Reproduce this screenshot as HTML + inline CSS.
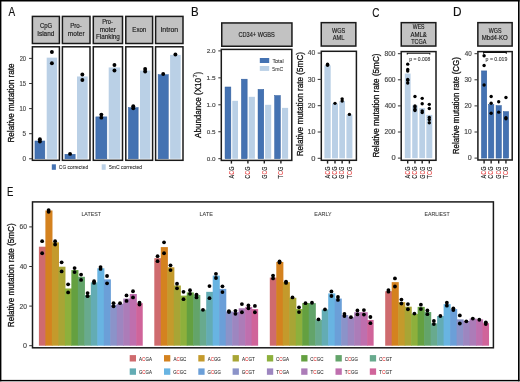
<!DOCTYPE html>
<html><head><meta charset="utf-8"><style>
html,body{margin:0;padding:0;background:#fff;}
body{width:520px;height:382px;overflow:hidden;}
svg{display:block;font-family:"Liberation Sans",sans-serif;will-change:transform;}
</style></head><body>
<svg width="520" height="382" viewBox="0 0 520 382">
<rect x="0.00" y="0.00" width="520.00" height="382.00" fill="#fff"/>
<text x="8.38" y="16.30" font-size="12.00" fill="#111" textLength="6.64" lengthAdjust="spacingAndGlyphs" stroke="#111" stroke-width="0.15">A</text>
<rect x="34.95" y="140.98" width="9.90" height="17.82" fill="#4472b2" stroke="#2f5c9c" stroke-width="0.5"/>
<rect x="46.70" y="57.65" width="10.40" height="101.15" fill="#bad0e6"/>
<circle cx="39.90" cy="139.32" r="1.95" fill="#000"/>
<circle cx="39.90" cy="141.53" r="1.95" fill="#000"/>
<circle cx="51.90" cy="51.97" r="1.95" fill="#000"/>
<circle cx="51.90" cy="63.32" r="1.95" fill="#000"/>
<rect x="32.40" y="46.80" width="27.00" height="113.50" fill="none" stroke="#1a1a1a" stroke-width="1.5"/>
<rect x="32.40" y="16.40" width="27.00" height="27.10" fill="#c2c2c2" stroke="#1a1a1a" stroke-width="1.5"/>
<rect x="64.95" y="154.28" width="10.20" height="4.52" fill="#4472b2" stroke="#2f5c9c" stroke-width="0.5"/>
<rect x="77.00" y="76.47" width="10.70" height="82.33" fill="#bad0e6"/>
<circle cx="70.05" cy="153.88" r="1.95" fill="#000"/>
<circle cx="82.35" cy="74.46" r="1.95" fill="#000"/>
<circle cx="82.35" cy="79.99" r="1.95" fill="#000"/>
<rect x="62.40" y="46.80" width="27.60" height="113.50" fill="none" stroke="#1a1a1a" stroke-width="1.5"/>
<rect x="62.40" y="16.40" width="27.60" height="27.10" fill="#c2c2c2" stroke="#1a1a1a" stroke-width="1.5"/>
<rect x="95.85" y="116.88" width="11.00" height="41.92" fill="#4472b2" stroke="#2f5c9c" stroke-width="0.5"/>
<rect x="108.70" y="67.44" width="11.50" height="91.36" fill="#bad0e6"/>
<circle cx="101.35" cy="114.62" r="1.95" fill="#000"/>
<circle cx="101.35" cy="117.64" r="1.95" fill="#000"/>
<circle cx="114.45" cy="64.93" r="1.95" fill="#000"/>
<circle cx="114.45" cy="70.45" r="1.95" fill="#000"/>
<rect x="93.30" y="46.80" width="29.20" height="113.50" fill="none" stroke="#1a1a1a" stroke-width="1.5"/>
<rect x="93.30" y="16.40" width="29.20" height="27.10" fill="#c2c2c2" stroke="#1a1a1a" stroke-width="1.5"/>
<rect x="128.35" y="107.65" width="9.80" height="51.15" fill="#4472b2" stroke="#2f5c9c" stroke-width="0.5"/>
<rect x="140.00" y="70.55" width="10.30" height="88.25" fill="#bad0e6"/>
<circle cx="133.25" cy="106.29" r="1.95" fill="#000"/>
<circle cx="133.25" cy="108.20" r="1.95" fill="#000"/>
<circle cx="145.15" cy="68.94" r="1.95" fill="#000"/>
<circle cx="145.15" cy="71.45" r="1.95" fill="#000"/>
<rect x="125.80" y="46.80" width="26.80" height="113.50" fill="none" stroke="#1a1a1a" stroke-width="1.5"/>
<rect x="125.80" y="16.40" width="26.80" height="27.10" fill="#c2c2c2" stroke="#1a1a1a" stroke-width="1.5"/>
<rect x="158.15" y="74.71" width="10.10" height="84.09" fill="#4472b2" stroke="#2f5c9c" stroke-width="0.5"/>
<rect x="170.10" y="54.89" width="10.60" height="103.91" fill="#bad0e6"/>
<circle cx="163.20" cy="73.96" r="1.95" fill="#000"/>
<circle cx="175.40" cy="54.53" r="1.95" fill="#000"/>
<rect x="155.60" y="46.80" width="27.40" height="113.50" fill="none" stroke="#1a1a1a" stroke-width="1.5"/>
<rect x="155.60" y="16.40" width="27.40" height="27.10" fill="#c2c2c2" stroke="#1a1a1a" stroke-width="1.5"/>
<text x="40.00" y="28.10" font-size="6.50" fill="#1a1a1a" textLength="12.25" lengthAdjust="spacingAndGlyphs" stroke="#1a1a1a" stroke-width="0.15">CpG</text>
<text x="37.21" y="35.60" font-size="6.50" fill="#1a1a1a" textLength="17.10" lengthAdjust="spacingAndGlyphs" stroke="#1a1a1a" stroke-width="0.15">Island</text>
<text x="70.19" y="28.10" font-size="6.50" fill="#1a1a1a" textLength="11.68" lengthAdjust="spacingAndGlyphs" stroke="#1a1a1a" stroke-width="0.15">Pro-</text>
<text x="67.87" y="35.60" font-size="6.50" fill="#1a1a1a" textLength="16.74" lengthAdjust="spacingAndGlyphs" stroke="#1a1a1a" stroke-width="0.15">moter</text>
<text x="102.13" y="24.20" font-size="6.50" fill="#1a1a1a" textLength="10.82" lengthAdjust="spacingAndGlyphs" stroke="#1a1a1a" stroke-width="0.15">Pro-</text>
<text x="99.78" y="31.90" font-size="6.50" fill="#1a1a1a" textLength="16.12" lengthAdjust="spacingAndGlyphs" stroke="#1a1a1a" stroke-width="0.15">moter</text>
<text x="95.98" y="39.30" font-size="6.50" fill="#1a1a1a" textLength="23.93" lengthAdjust="spacingAndGlyphs" stroke="#1a1a1a" stroke-width="0.15">Flanking</text>
<text x="132.30" y="31.90" font-size="6.50" fill="#1a1a1a" textLength="14.00" lengthAdjust="spacingAndGlyphs" stroke="#1a1a1a" stroke-width="0.15">Exon</text>
<text x="160.46" y="31.90" font-size="6.50" fill="#1a1a1a" textLength="17.69" lengthAdjust="spacingAndGlyphs" stroke="#1a1a1a" stroke-width="0.15">Intron</text>
<line x1="29.10" y1="58.40" x2="32.40" y2="58.40" stroke="#333" stroke-width="1.0"/>
<text x="19.71" y="60.75" font-size="6.80" fill="#444" textLength="6.31" lengthAdjust="spacingAndGlyphs" stroke="#444" stroke-width="0.15">20</text>
<line x1="29.10" y1="83.50" x2="32.40" y2="83.50" stroke="#333" stroke-width="1.0"/>
<text x="19.56" y="85.85" font-size="6.80" fill="#444" textLength="6.49" lengthAdjust="spacingAndGlyphs" stroke="#444" stroke-width="0.15">15</text>
<line x1="29.10" y1="108.60" x2="32.40" y2="108.60" stroke="#333" stroke-width="1.0"/>
<text x="19.56" y="110.95" font-size="6.80" fill="#444" textLength="6.47" lengthAdjust="spacingAndGlyphs" stroke="#444" stroke-width="0.15">10</text>
<line x1="29.10" y1="133.70" x2="32.40" y2="133.70" stroke="#333" stroke-width="1.0"/>
<text x="22.55" y="136.05" font-size="6.80" fill="#444" textLength="3.52" lengthAdjust="spacingAndGlyphs" stroke="#444" stroke-width="0.15">5</text>
<line x1="29.10" y1="158.80" x2="32.40" y2="158.80" stroke="#333" stroke-width="1.0"/>
<text x="22.55" y="161.15" font-size="6.80" fill="#444" textLength="3.49" lengthAdjust="spacingAndGlyphs" stroke="#444" stroke-width="0.15">0</text>
<text transform="translate(14.40,142.57) rotate(-90)" font-size="9.50" fill="#111" textLength="79.13" lengthAdjust="spacingAndGlyphs" stroke="#111" stroke-width="0.3">Relative mutation rate</text>
<rect x="51.80" y="164.30" width="4.10" height="5.50" fill="#4472b2"/>
<text x="58.85" y="169.40" font-size="5.80" fill="#333" textLength="29.37" lengthAdjust="spacingAndGlyphs" stroke="#333" stroke-width="0.1">CG corrected</text>
<rect x="101.70" y="164.30" width="4.00" height="5.50" fill="#bad0e6"/>
<text x="108.90" y="169.40" font-size="5.80" fill="#333" textLength="33.18" lengthAdjust="spacingAndGlyphs" stroke="#333" stroke-width="0.1">5mC corrected</text>
<text x="190.96" y="16.40" font-size="12.00" fill="#111" textLength="7.64" lengthAdjust="spacingAndGlyphs" stroke="#111" stroke-width="0.15">B</text>
<rect x="225.05" y="86.99" width="5.80" height="71.71" fill="#4472b2" stroke="#2f5c9c" stroke-width="0.5"/>
<rect x="232.30" y="100.81" width="5.70" height="57.89" fill="#bad0e6"/>
<rect x="241.45" y="79.18" width="5.70" height="79.52" fill="#4472b2" stroke="#2f5c9c" stroke-width="0.5"/>
<rect x="248.80" y="96.82" width="6.10" height="61.88" fill="#bad0e6"/>
<rect x="258.05" y="89.42" width="5.70" height="69.28" fill="#4472b2" stroke="#2f5c9c" stroke-width="0.5"/>
<rect x="265.10" y="104.80" width="6.10" height="53.90" fill="#bad0e6"/>
<rect x="274.65" y="95.56" width="5.70" height="63.14" fill="#4472b2" stroke="#2f5c9c" stroke-width="0.5"/>
<rect x="282.00" y="107.87" width="6.10" height="50.83" fill="#bad0e6"/>
<rect x="221.30" y="49.40" width="70.50" height="111.00" fill="none" stroke="#1a1a1a" stroke-width="1.5"/>
<rect x="221.75" y="22.95" width="70.20" height="23.30" fill="#c2c2c2" stroke="#1a1a1a" stroke-width="1.5"/>
<text x="238.51" y="37.20" font-size="7.00" fill="#1a1a1a" textLength="36.34" lengthAdjust="spacingAndGlyphs" stroke="#1a1a1a" stroke-width="0.15">CD34+ WGBS</text>
<line x1="218.30" y1="50.90" x2="221.60" y2="50.90" stroke="#333" stroke-width="1.0"/>
<text x="206.68" y="52.90" font-size="6.00" fill="#444" textLength="8.87" lengthAdjust="spacingAndGlyphs" stroke="#444" stroke-width="0.15">2.0</text>
<line x1="218.30" y1="77.85" x2="221.60" y2="77.85" stroke="#333" stroke-width="1.0"/>
<text x="206.50" y="79.85" font-size="6.00" fill="#444" textLength="9.07" lengthAdjust="spacingAndGlyphs" stroke="#444" stroke-width="0.15">1.5</text>
<line x1="218.30" y1="104.80" x2="221.60" y2="104.80" stroke="#333" stroke-width="1.0"/>
<text x="206.50" y="106.80" font-size="6.00" fill="#444" textLength="9.05" lengthAdjust="spacingAndGlyphs" stroke="#444" stroke-width="0.15">1.0</text>
<line x1="218.30" y1="131.75" x2="221.60" y2="131.75" stroke="#333" stroke-width="1.0"/>
<text x="206.75" y="133.75" font-size="6.00" fill="#444" textLength="8.81" lengthAdjust="spacingAndGlyphs" stroke="#444" stroke-width="0.15">0.5</text>
<line x1="218.30" y1="158.70" x2="221.60" y2="158.70" stroke="#333" stroke-width="1.0"/>
<text x="206.75" y="160.70" font-size="6.00" fill="#444" textLength="8.79" lengthAdjust="spacingAndGlyphs" stroke="#444" stroke-width="0.15">0.0</text>
<rect x="259.80" y="58.00" width="9.40" height="5.00" fill="#4472b2"/>
<rect x="259.80" y="66.00" width="9.40" height="4.90" fill="#bad0e6"/>
<text x="272.39" y="62.60" font-size="5.50" fill="#333" textLength="11.25" lengthAdjust="spacingAndGlyphs" stroke="#333" stroke-width="0.06">Total</text>
<text x="272.30" y="70.60" font-size="5.50" fill="#333" textLength="10.80" lengthAdjust="spacingAndGlyphs" stroke="#333" stroke-width="0.06">5mC</text>
<line x1="231.40" y1="160.40" x2="231.40" y2="163.60" stroke="#222" stroke-width="1.4"/>
<text transform="translate(233.70,178.41) rotate(-90)" font-size="6.40" fill="#1a1a1a" textLength="11.82" lengthAdjust="spacingAndGlyphs" stroke="#1a1a1a" stroke-width="0.14">A<tspan fill="#e64545" stroke="#e64545" stroke-width="0.1">C</tspan>G</text>
<line x1="247.90" y1="160.40" x2="247.90" y2="163.60" stroke="#222" stroke-width="1.4"/>
<text transform="translate(250.20,178.68) rotate(-90)" font-size="6.40" fill="#1a1a1a" textLength="12.08" lengthAdjust="spacingAndGlyphs" stroke="#1a1a1a" stroke-width="0.14">C<tspan fill="#e64545" stroke="#e64545" stroke-width="0.1">C</tspan>G</text>
<line x1="264.30" y1="160.40" x2="264.30" y2="163.60" stroke="#222" stroke-width="1.4"/>
<text transform="translate(266.60,178.67) rotate(-90)" font-size="6.40" fill="#1a1a1a" textLength="12.06" lengthAdjust="spacingAndGlyphs" stroke="#1a1a1a" stroke-width="0.14">G<tspan fill="#e64545" stroke="#e64545" stroke-width="0.1">C</tspan>G</text>
<line x1="280.90" y1="160.40" x2="280.90" y2="163.60" stroke="#222" stroke-width="1.4"/>
<text transform="translate(283.20,178.53) rotate(-90)" font-size="6.40" fill="#1a1a1a" textLength="11.95" lengthAdjust="spacingAndGlyphs" stroke="#1a1a1a" stroke-width="0.14">T<tspan fill="#e64545" stroke="#e64545" stroke-width="0.1">C</tspan>G</text>
<text transform="translate(201.10,137.92) rotate(-90)" font-size="8.90" fill="#111" textLength="59.93" lengthAdjust="spacingAndGlyphs" stroke="#111" stroke-width="0.3">Abundance (X10</text>
<text transform="translate(197.10,77.60) rotate(-90)" font-size="5.80" fill="#111" textLength="3.30" lengthAdjust="spacingAndGlyphs" stroke="#111" stroke-width="0.15">7</text>
<text transform="translate(201.10,74.14) rotate(-90)" font-size="8.60" fill="#111" textLength="2.26" lengthAdjust="spacingAndGlyphs" stroke="#111" stroke-width="0.3">)</text>
<rect x="324.40" y="65.46" width="6.30" height="92.84" fill="#bad0e6"/>
<circle cx="327.55" cy="64.15" r="1.70" fill="#000"/>
<circle cx="327.55" cy="65.20" r="1.70" fill="#000"/>
<rect x="332.00" y="103.60" width="6.00" height="54.70" fill="#bad0e6"/>
<circle cx="335.00" cy="103.33" r="1.70" fill="#000"/>
<rect x="339.30" y="100.97" width="5.70" height="57.33" fill="#bad0e6"/>
<circle cx="342.15" cy="98.86" r="1.70" fill="#000"/>
<circle cx="342.15" cy="100.97" r="1.70" fill="#000"/>
<rect x="346.40" y="114.64" width="6.00" height="43.66" fill="#bad0e6"/>
<circle cx="349.40" cy="114.38" r="1.70" fill="#000"/>
<rect x="321.30" y="51.30" width="35.10" height="109.00" fill="none" stroke="#1a1a1a" stroke-width="1.5"/>
<rect x="321.25" y="22.65" width="34.60" height="23.40" fill="#c2c2c2" stroke="#1a1a1a" stroke-width="1.5"/>
<text x="332.08" y="32.60" font-size="6.50" fill="#1a1a1a" textLength="13.18" lengthAdjust="spacingAndGlyphs" stroke="#1a1a1a" stroke-width="0.15">WGS</text>
<text x="332.79" y="40.30" font-size="6.50" fill="#1a1a1a" textLength="11.70" lengthAdjust="spacingAndGlyphs" stroke="#1a1a1a" stroke-width="0.15">AML</text>
<line x1="317.70" y1="53.10" x2="321.30" y2="53.10" stroke="#333" stroke-width="1.0"/>
<text x="307.84" y="55.40" font-size="6.80" fill="#444" textLength="7.52" lengthAdjust="spacingAndGlyphs" stroke="#444" stroke-width="0.15">40</text>
<line x1="317.70" y1="79.40" x2="321.30" y2="79.40" stroke="#333" stroke-width="1.0"/>
<text x="307.74" y="81.70" font-size="6.80" fill="#444" textLength="7.63" lengthAdjust="spacingAndGlyphs" stroke="#444" stroke-width="0.15">30</text>
<line x1="317.70" y1="105.70" x2="321.30" y2="105.70" stroke="#333" stroke-width="1.0"/>
<text x="307.65" y="108.00" font-size="6.80" fill="#444" textLength="7.72" lengthAdjust="spacingAndGlyphs" stroke="#444" stroke-width="0.15">20</text>
<line x1="317.70" y1="132.00" x2="321.30" y2="132.00" stroke="#333" stroke-width="1.0"/>
<text x="307.46" y="134.30" font-size="6.80" fill="#444" textLength="7.92" lengthAdjust="spacingAndGlyphs" stroke="#444" stroke-width="0.15">10</text>
<line x1="317.70" y1="158.30" x2="321.30" y2="158.30" stroke="#333" stroke-width="1.0"/>
<text x="311.21" y="160.60" font-size="6.80" fill="#444" textLength="4.19" lengthAdjust="spacingAndGlyphs" stroke="#444" stroke-width="0.15">0</text>
<line x1="327.55" y1="160.30" x2="327.55" y2="163.60" stroke="#222" stroke-width="1.4"/>
<text transform="translate(329.85,178.41) rotate(-90)" font-size="6.40" fill="#1a1a1a" textLength="11.82" lengthAdjust="spacingAndGlyphs" stroke="#1a1a1a" stroke-width="0.14">A<tspan fill="#e64545" stroke="#e64545" stroke-width="0.1">C</tspan>G</text>
<line x1="335.00" y1="160.30" x2="335.00" y2="163.60" stroke="#222" stroke-width="1.4"/>
<text transform="translate(337.30,178.68) rotate(-90)" font-size="6.40" fill="#1a1a1a" textLength="12.08" lengthAdjust="spacingAndGlyphs" stroke="#1a1a1a" stroke-width="0.14">C<tspan fill="#e64545" stroke="#e64545" stroke-width="0.1">C</tspan>G</text>
<line x1="342.15" y1="160.30" x2="342.15" y2="163.60" stroke="#222" stroke-width="1.4"/>
<text transform="translate(344.45,178.67) rotate(-90)" font-size="6.40" fill="#1a1a1a" textLength="12.06" lengthAdjust="spacingAndGlyphs" stroke="#1a1a1a" stroke-width="0.14">G<tspan fill="#e64545" stroke="#e64545" stroke-width="0.1">C</tspan>G</text>
<line x1="349.40" y1="160.30" x2="349.40" y2="163.60" stroke="#222" stroke-width="1.4"/>
<text transform="translate(351.70,178.53) rotate(-90)" font-size="6.40" fill="#1a1a1a" textLength="11.95" lengthAdjust="spacingAndGlyphs" stroke="#1a1a1a" stroke-width="0.14">T<tspan fill="#e64545" stroke="#e64545" stroke-width="0.1">C</tspan>G</text>
<text transform="translate(302.50,156.37) rotate(-90)" font-size="9.00" fill="#111" textLength="104.38" lengthAdjust="spacingAndGlyphs" stroke="#111" stroke-width="0.3">Relative mutation rate (5mC)</text>
<text x="372.29" y="16.50" font-size="12.00" fill="#111" textLength="7.18" lengthAdjust="spacingAndGlyphs" stroke="#111" stroke-width="0.15">C</text>
<rect x="404.80" y="73.54" width="5.80" height="84.56" fill="#bad0e6"/>
<circle cx="407.70" cy="64.14" r="1.70" fill="#000"/>
<circle cx="407.70" cy="69.49" r="1.70" fill="#000"/>
<circle cx="407.70" cy="71.06" r="1.70" fill="#000"/>
<circle cx="407.70" cy="79.41" r="1.70" fill="#000"/>
<circle cx="407.70" cy="80.19" r="1.70" fill="#000"/>
<circle cx="407.70" cy="83.06" r="1.70" fill="#000"/>
<rect x="412.20" y="105.38" width="5.50" height="52.72" fill="#bad0e6"/>
<circle cx="414.95" cy="96.50" r="1.70" fill="#000"/>
<circle cx="414.95" cy="105.90" r="1.70" fill="#000"/>
<circle cx="414.95" cy="106.94" r="1.70" fill="#000"/>
<circle cx="414.95" cy="109.16" r="1.70" fill="#000"/>
<circle cx="414.95" cy="110.60" r="1.70" fill="#000"/>
<rect x="419.30" y="108.12" width="5.80" height="49.98" fill="#bad0e6"/>
<circle cx="422.20" cy="98.33" r="1.70" fill="#000"/>
<circle cx="422.20" cy="103.81" r="1.70" fill="#000"/>
<circle cx="422.20" cy="110.86" r="1.70" fill="#000"/>
<circle cx="422.20" cy="112.56" r="1.70" fill="#000"/>
<rect x="426.30" y="114.90" width="6.00" height="43.20" fill="#bad0e6"/>
<circle cx="429.30" cy="104.33" r="1.70" fill="#000"/>
<circle cx="429.30" cy="108.51" r="1.70" fill="#000"/>
<circle cx="429.30" cy="117.51" r="1.70" fill="#000"/>
<circle cx="429.30" cy="119.60" r="1.70" fill="#000"/>
<circle cx="429.30" cy="122.73" r="1.70" fill="#000"/>
<rect x="401.20" y="51.60" width="34.80" height="108.70" fill="none" stroke="#1a1a1a" stroke-width="1.5"/>
<rect x="401.25" y="22.65" width="34.60" height="23.40" fill="#c2c2c2" stroke="#1a1a1a" stroke-width="1.5"/>
<text x="412.78" y="28.60" font-size="6.50" fill="#1a1a1a" textLength="11.76" lengthAdjust="spacingAndGlyphs" stroke="#1a1a1a" stroke-width="0.15">WES</text>
<text x="410.39" y="36.50" font-size="6.50" fill="#1a1a1a" textLength="16.41" lengthAdjust="spacingAndGlyphs" stroke="#1a1a1a" stroke-width="0.15">AML&amp;</text>
<text x="411.18" y="44.20" font-size="6.50" fill="#1a1a1a" textLength="15.13" lengthAdjust="spacingAndGlyphs" stroke="#1a1a1a" stroke-width="0.15">TCGA</text>
<line x1="397.90" y1="53.70" x2="401.20" y2="53.70" stroke="#333" stroke-width="1.0"/>
<text x="384.51" y="56.00" font-size="6.80" fill="#444" textLength="11.05" lengthAdjust="spacingAndGlyphs" stroke="#444" stroke-width="0.15">800</text>
<line x1="397.90" y1="79.80" x2="401.20" y2="79.80" stroke="#333" stroke-width="1.0"/>
<text x="384.46" y="82.10" font-size="6.80" fill="#444" textLength="11.10" lengthAdjust="spacingAndGlyphs" stroke="#444" stroke-width="0.15">600</text>
<line x1="397.90" y1="105.90" x2="401.20" y2="105.90" stroke="#333" stroke-width="1.0"/>
<text x="384.65" y="108.20" font-size="6.80" fill="#444" textLength="10.91" lengthAdjust="spacingAndGlyphs" stroke="#444" stroke-width="0.15">400</text>
<line x1="397.90" y1="132.00" x2="401.20" y2="132.00" stroke="#333" stroke-width="1.0"/>
<text x="384.47" y="134.30" font-size="6.80" fill="#444" textLength="11.09" lengthAdjust="spacingAndGlyphs" stroke="#444" stroke-width="0.15">200</text>
<line x1="397.90" y1="158.10" x2="401.20" y2="158.10" stroke="#333" stroke-width="1.0"/>
<text x="391.41" y="160.40" font-size="6.80" fill="#444" textLength="4.19" lengthAdjust="spacingAndGlyphs" stroke="#444" stroke-width="0.15">0</text>
<line x1="407.70" y1="160.30" x2="407.70" y2="163.60" stroke="#222" stroke-width="1.4"/>
<text transform="translate(410.00,178.41) rotate(-90)" font-size="6.40" fill="#1a1a1a" textLength="11.82" lengthAdjust="spacingAndGlyphs" stroke="#1a1a1a" stroke-width="0.14">A<tspan fill="#e64545" stroke="#e64545" stroke-width="0.1">C</tspan>G</text>
<line x1="414.95" y1="160.30" x2="414.95" y2="163.60" stroke="#222" stroke-width="1.4"/>
<text transform="translate(417.25,178.68) rotate(-90)" font-size="6.40" fill="#1a1a1a" textLength="12.08" lengthAdjust="spacingAndGlyphs" stroke="#1a1a1a" stroke-width="0.14">C<tspan fill="#e64545" stroke="#e64545" stroke-width="0.1">C</tspan>G</text>
<line x1="422.20" y1="160.30" x2="422.20" y2="163.60" stroke="#222" stroke-width="1.4"/>
<text transform="translate(424.50,178.67) rotate(-90)" font-size="6.40" fill="#1a1a1a" textLength="12.06" lengthAdjust="spacingAndGlyphs" stroke="#1a1a1a" stroke-width="0.14">G<tspan fill="#e64545" stroke="#e64545" stroke-width="0.1">C</tspan>G</text>
<line x1="429.30" y1="160.30" x2="429.30" y2="163.60" stroke="#222" stroke-width="1.4"/>
<text transform="translate(431.60,178.53) rotate(-90)" font-size="6.40" fill="#1a1a1a" textLength="11.95" lengthAdjust="spacingAndGlyphs" stroke="#1a1a1a" stroke-width="0.14">T<tspan fill="#e64545" stroke="#e64545" stroke-width="0.1">C</tspan>G</text>
<text transform="translate(379.00,157.57) rotate(-90)" font-size="9.00" fill="#111" textLength="104.07" lengthAdjust="spacingAndGlyphs" stroke="#111" stroke-width="0.3">Relative mutation rate (5mC)</text>
<path d="M407.3,54.6 L407.3,53.2 L429.8,53.2 L429.8,54.6" fill="none" stroke="#111" stroke-width="1.15"/>
<text x="409.28" y="61.00" font-size="5.20" fill="#333" textLength="21.04" lengthAdjust="spacingAndGlyphs" stroke="#333" stroke-width="0.08">p = 0.008</text>
<text x="452.93" y="16.20" font-size="12.00" fill="#111" textLength="8.54" lengthAdjust="spacingAndGlyphs" stroke="#111" stroke-width="0.15">D</text>
<rect x="481.45" y="70.91" width="5.30" height="87.19" fill="#4472b2" stroke="#2f5c9c" stroke-width="0.5"/>
<circle cx="484.10" cy="55.79" r="1.70" fill="#000"/>
<circle cx="484.10" cy="65.44" r="1.70" fill="#000"/>
<circle cx="484.10" cy="85.02" r="1.70" fill="#000"/>
<rect x="488.45" y="104.58" width="5.40" height="53.52" fill="#4472b2" stroke="#2f5c9c" stroke-width="0.5"/>
<circle cx="491.15" cy="96.50" r="1.70" fill="#000"/>
<circle cx="491.15" cy="103.29" r="1.70" fill="#000"/>
<circle cx="491.15" cy="113.21" r="1.70" fill="#000"/>
<rect x="496.05" y="105.63" width="5.30" height="52.47" fill="#4472b2" stroke="#2f5c9c" stroke-width="0.5"/>
<circle cx="498.70" cy="101.72" r="1.70" fill="#000"/>
<circle cx="498.70" cy="112.16" r="1.70" fill="#000"/>
<rect x="503.25" y="111.63" width="5.40" height="46.47" fill="#4472b2" stroke="#2f5c9c" stroke-width="0.5"/>
<circle cx="505.95" cy="97.55" r="1.70" fill="#000"/>
<circle cx="505.95" cy="117.64" r="1.70" fill="#000"/>
<circle cx="505.95" cy="118.69" r="1.70" fill="#000"/>
<rect x="477.90" y="51.60" width="34.30" height="108.40" fill="none" stroke="#1a1a1a" stroke-width="1.5"/>
<rect x="477.85" y="22.65" width="34.30" height="23.40" fill="#c2c2c2" stroke="#1a1a1a" stroke-width="1.5"/>
<text x="488.73" y="32.60" font-size="6.50" fill="#1a1a1a" textLength="12.77" lengthAdjust="spacingAndGlyphs" stroke="#1a1a1a" stroke-width="0.15">WGS</text>
<text x="481.80" y="40.30" font-size="6.50" fill="#1a1a1a" textLength="25.99" lengthAdjust="spacingAndGlyphs" stroke="#1a1a1a" stroke-width="0.15">Mbd4-KO</text>
<line x1="474.50" y1="53.70" x2="477.90" y2="53.70" stroke="#333" stroke-width="1.0"/>
<text x="464.66" y="56.00" font-size="6.80" fill="#444" textLength="6.99" lengthAdjust="spacingAndGlyphs" stroke="#444" stroke-width="0.15">40</text>
<line x1="474.50" y1="79.80" x2="477.90" y2="79.80" stroke="#333" stroke-width="1.0"/>
<text x="464.56" y="82.10" font-size="6.80" fill="#444" textLength="7.09" lengthAdjust="spacingAndGlyphs" stroke="#444" stroke-width="0.15">30</text>
<line x1="474.50" y1="105.90" x2="477.90" y2="105.90" stroke="#333" stroke-width="1.0"/>
<text x="464.48" y="108.20" font-size="6.80" fill="#444" textLength="7.18" lengthAdjust="spacingAndGlyphs" stroke="#444" stroke-width="0.15">20</text>
<line x1="474.50" y1="132.00" x2="477.90" y2="132.00" stroke="#333" stroke-width="1.0"/>
<text x="464.30" y="134.30" font-size="6.80" fill="#444" textLength="7.36" lengthAdjust="spacingAndGlyphs" stroke="#444" stroke-width="0.15">10</text>
<line x1="474.50" y1="158.10" x2="477.90" y2="158.10" stroke="#333" stroke-width="1.0"/>
<text x="467.72" y="160.40" font-size="6.80" fill="#444" textLength="3.96" lengthAdjust="spacingAndGlyphs" stroke="#444" stroke-width="0.15">0</text>
<line x1="484.10" y1="160.00" x2="484.10" y2="163.60" stroke="#222" stroke-width="1.4"/>
<text transform="translate(486.40,178.41) rotate(-90)" font-size="6.40" fill="#1a1a1a" textLength="11.82" lengthAdjust="spacingAndGlyphs" stroke="#1a1a1a" stroke-width="0.14">A<tspan fill="#e64545" stroke="#e64545" stroke-width="0.1">C</tspan>G</text>
<line x1="491.15" y1="160.00" x2="491.15" y2="163.60" stroke="#222" stroke-width="1.4"/>
<text transform="translate(493.45,178.68) rotate(-90)" font-size="6.40" fill="#1a1a1a" textLength="12.08" lengthAdjust="spacingAndGlyphs" stroke="#1a1a1a" stroke-width="0.14">C<tspan fill="#e64545" stroke="#e64545" stroke-width="0.1">C</tspan>G</text>
<line x1="498.70" y1="160.00" x2="498.70" y2="163.60" stroke="#222" stroke-width="1.4"/>
<text transform="translate(501.00,178.67) rotate(-90)" font-size="6.40" fill="#1a1a1a" textLength="12.06" lengthAdjust="spacingAndGlyphs" stroke="#1a1a1a" stroke-width="0.14">G<tspan fill="#e64545" stroke="#e64545" stroke-width="0.1">C</tspan>G</text>
<line x1="505.95" y1="160.00" x2="505.95" y2="163.60" stroke="#222" stroke-width="1.4"/>
<text transform="translate(508.25,178.53) rotate(-90)" font-size="6.40" fill="#1a1a1a" textLength="11.95" lengthAdjust="spacingAndGlyphs" stroke="#1a1a1a" stroke-width="0.14">T<tspan fill="#e64545" stroke="#e64545" stroke-width="0.1">C</tspan>G</text>
<text transform="translate(458.60,154.26) rotate(-90)" font-size="9.00" fill="#111" textLength="97.25" lengthAdjust="spacingAndGlyphs" stroke="#111" stroke-width="0.3">Relative mutation rate (CG)</text>
<path d="M483.6,53.8 L483.6,52.4 L506.3,52.4 L506.3,53.8" fill="none" stroke="#111" stroke-width="1.15"/>
<text x="485.57" y="61.00" font-size="5.20" fill="#333" textLength="21.78" lengthAdjust="spacingAndGlyphs" stroke="#333" stroke-width="0.08">p = 0.019</text>
<text x="7.01" y="196.10" font-size="12.00" fill="#111" textLength="6.40" lengthAdjust="spacingAndGlyphs" stroke="#111" stroke-width="0.15">E</text>
<rect x="38.90" y="246.70" width="7.09" height="99.00" fill="#cf6b6e"/>
<rect x="45.39" y="210.47" width="7.09" height="135.23" fill="#d4821f"/>
<rect x="51.88" y="242.34" width="7.09" height="103.36" fill="#c49a2c"/>
<rect x="58.37" y="266.70" width="7.09" height="79.00" fill="#a8a535"/>
<rect x="64.86" y="288.48" width="7.09" height="57.22" fill="#8db03c"/>
<rect x="71.35" y="270.06" width="7.09" height="75.64" fill="#64a040"/>
<rect x="77.84" y="276.80" width="7.09" height="68.90" fill="#63a46a"/>
<rect x="84.33" y="295.01" width="7.09" height="50.69" fill="#68aa8e"/>
<rect x="90.82" y="282.34" width="7.09" height="63.36" fill="#63acb4"/>
<rect x="97.31" y="268.28" width="7.09" height="77.42" fill="#68b4e2"/>
<rect x="103.80" y="279.37" width="7.09" height="66.33" fill="#6b9fd8"/>
<rect x="110.29" y="304.91" width="7.09" height="40.79" fill="#8b93c9"/>
<rect x="116.78" y="303.72" width="7.09" height="41.98" fill="#9d86c0"/>
<rect x="123.27" y="298.58" width="7.09" height="47.12" fill="#ac7cb8"/>
<rect x="129.76" y="294.02" width="7.09" height="51.68" fill="#bf6fae"/>
<rect x="136.25" y="303.13" width="6.49" height="42.57" fill="#d0649a"/>
<circle cx="42.14" cy="241.16" r="1.90" fill="#000"/>
<circle cx="42.14" cy="253.23" r="1.90" fill="#000"/>
<circle cx="48.63" cy="210.07" r="1.90" fill="#000"/>
<circle cx="48.63" cy="211.85" r="1.90" fill="#000"/>
<circle cx="55.12" cy="241.16" r="1.90" fill="#000"/>
<circle cx="55.12" cy="244.52" r="1.90" fill="#000"/>
<circle cx="61.61" cy="262.34" r="1.90" fill="#000"/>
<circle cx="61.61" cy="271.45" r="1.90" fill="#000"/>
<circle cx="68.11" cy="284.32" r="1.90" fill="#000"/>
<circle cx="68.11" cy="292.44" r="1.90" fill="#000"/>
<circle cx="74.59" cy="268.08" r="1.90" fill="#000"/>
<circle cx="74.59" cy="272.04" r="1.90" fill="#000"/>
<circle cx="81.09" cy="274.62" r="1.90" fill="#000"/>
<circle cx="81.09" cy="279.96" r="1.90" fill="#000"/>
<circle cx="87.58" cy="293.03" r="1.90" fill="#000"/>
<circle cx="87.58" cy="296.20" r="1.90" fill="#000"/>
<circle cx="94.06" cy="281.15" r="1.90" fill="#000"/>
<circle cx="94.06" cy="282.93" r="1.90" fill="#000"/>
<circle cx="100.56" cy="267.09" r="1.90" fill="#000"/>
<circle cx="100.56" cy="268.88" r="1.90" fill="#000"/>
<circle cx="107.05" cy="276.00" r="1.90" fill="#000"/>
<circle cx="107.05" cy="283.33" r="1.90" fill="#000"/>
<circle cx="113.53" cy="303.13" r="1.90" fill="#000"/>
<circle cx="113.53" cy="306.30" r="1.90" fill="#000"/>
<circle cx="120.03" cy="303.13" r="1.90" fill="#000"/>
<circle cx="126.52" cy="295.41" r="1.90" fill="#000"/>
<circle cx="126.52" cy="300.95" r="1.90" fill="#000"/>
<circle cx="133.00" cy="291.25" r="1.90" fill="#000"/>
<circle cx="133.00" cy="297.39" r="1.90" fill="#000"/>
<circle cx="139.50" cy="302.73" r="1.90" fill="#000"/>
<circle cx="139.50" cy="304.52" r="1.90" fill="#000"/>
<rect x="154.30" y="258.18" width="7.09" height="87.52" fill="#cf6b6e"/>
<rect x="160.79" y="247.10" width="7.09" height="98.60" fill="#d4821f"/>
<rect x="167.28" y="267.29" width="7.09" height="78.41" fill="#c49a2c"/>
<rect x="173.77" y="285.51" width="7.09" height="60.19" fill="#a8a535"/>
<rect x="180.26" y="295.61" width="7.09" height="50.09" fill="#8db03c"/>
<rect x="186.75" y="292.44" width="7.09" height="53.26" fill="#64a040"/>
<rect x="193.24" y="295.01" width="7.09" height="50.69" fill="#63a46a"/>
<rect x="199.73" y="309.66" width="7.09" height="36.04" fill="#68aa8e"/>
<rect x="206.22" y="291.84" width="7.09" height="53.86" fill="#63acb4"/>
<rect x="212.71" y="275.61" width="7.09" height="70.09" fill="#68b4e2"/>
<rect x="219.20" y="288.87" width="7.09" height="56.83" fill="#6b9fd8"/>
<rect x="225.69" y="311.45" width="7.09" height="34.25" fill="#8b93c9"/>
<rect x="232.18" y="312.04" width="7.09" height="33.66" fill="#9d86c0"/>
<rect x="238.67" y="308.28" width="7.09" height="37.42" fill="#ac7cb8"/>
<rect x="245.16" y="306.89" width="7.09" height="38.81" fill="#bf6fae"/>
<rect x="251.65" y="309.07" width="6.49" height="36.63" fill="#d0649a"/>
<circle cx="157.55" cy="256.20" r="1.90" fill="#000"/>
<circle cx="157.55" cy="261.15" r="1.90" fill="#000"/>
<circle cx="164.04" cy="242.34" r="1.90" fill="#000"/>
<circle cx="164.04" cy="253.23" r="1.90" fill="#000"/>
<circle cx="170.53" cy="265.31" r="1.90" fill="#000"/>
<circle cx="170.53" cy="270.06" r="1.90" fill="#000"/>
<circle cx="177.02" cy="283.73" r="1.90" fill="#000"/>
<circle cx="177.02" cy="288.28" r="1.90" fill="#000"/>
<circle cx="183.51" cy="291.84" r="1.90" fill="#000"/>
<circle cx="183.51" cy="299.17" r="1.90" fill="#000"/>
<circle cx="190.00" cy="290.26" r="1.90" fill="#000"/>
<circle cx="190.00" cy="293.82" r="1.90" fill="#000"/>
<circle cx="196.49" cy="294.62" r="1.90" fill="#000"/>
<circle cx="196.49" cy="297.39" r="1.90" fill="#000"/>
<circle cx="202.98" cy="309.86" r="1.90" fill="#000"/>
<circle cx="209.47" cy="286.10" r="1.90" fill="#000"/>
<circle cx="209.47" cy="298.18" r="1.90" fill="#000"/>
<circle cx="215.96" cy="273.83" r="1.90" fill="#000"/>
<circle cx="215.96" cy="277.98" r="1.90" fill="#000"/>
<circle cx="222.45" cy="286.30" r="1.90" fill="#000"/>
<circle cx="222.45" cy="292.04" r="1.90" fill="#000"/>
<circle cx="228.94" cy="311.05" r="1.90" fill="#000"/>
<circle cx="228.94" cy="312.04" r="1.90" fill="#000"/>
<circle cx="235.43" cy="310.85" r="1.90" fill="#000"/>
<circle cx="235.43" cy="313.82" r="1.90" fill="#000"/>
<circle cx="241.92" cy="304.12" r="1.90" fill="#000"/>
<circle cx="241.92" cy="312.24" r="1.90" fill="#000"/>
<circle cx="248.41" cy="305.51" r="1.90" fill="#000"/>
<circle cx="248.41" cy="308.28" r="1.90" fill="#000"/>
<circle cx="254.90" cy="305.90" r="1.90" fill="#000"/>
<circle cx="254.90" cy="312.24" r="1.90" fill="#000"/>
<rect x="269.80" y="277.59" width="7.09" height="68.11" fill="#cf6b6e"/>
<rect x="276.29" y="261.95" width="7.09" height="83.75" fill="#d4821f"/>
<rect x="282.78" y="282.14" width="7.09" height="63.56" fill="#c49a2c"/>
<rect x="289.27" y="297.78" width="7.09" height="47.92" fill="#a8a535"/>
<rect x="295.76" y="309.07" width="7.09" height="36.63" fill="#8db03c"/>
<rect x="302.25" y="303.13" width="7.09" height="42.57" fill="#64a040"/>
<rect x="308.74" y="303.13" width="7.09" height="42.57" fill="#63a46a"/>
<rect x="315.23" y="319.96" width="7.09" height="25.74" fill="#68aa8e"/>
<rect x="321.72" y="309.47" width="7.09" height="36.23" fill="#63acb4"/>
<rect x="328.21" y="293.43" width="7.09" height="52.27" fill="#68b4e2"/>
<rect x="334.70" y="298.58" width="7.09" height="47.12" fill="#6b9fd8"/>
<rect x="341.19" y="315.01" width="7.09" height="30.69" fill="#8b93c9"/>
<rect x="347.68" y="317.19" width="7.09" height="28.51" fill="#9d86c0"/>
<rect x="354.17" y="312.24" width="7.09" height="33.46" fill="#ac7cb8"/>
<rect x="360.66" y="312.24" width="7.09" height="33.46" fill="#bf6fae"/>
<rect x="367.15" y="319.96" width="6.49" height="25.74" fill="#d0649a"/>
<circle cx="273.05" cy="275.61" r="1.90" fill="#000"/>
<circle cx="273.05" cy="278.38" r="1.90" fill="#000"/>
<circle cx="279.54" cy="261.35" r="1.90" fill="#000"/>
<circle cx="279.54" cy="262.54" r="1.90" fill="#000"/>
<circle cx="286.03" cy="281.55" r="1.90" fill="#000"/>
<circle cx="286.03" cy="282.93" r="1.90" fill="#000"/>
<circle cx="292.51" cy="297.39" r="1.90" fill="#000"/>
<circle cx="299.00" cy="307.29" r="1.90" fill="#000"/>
<circle cx="299.00" cy="312.04" r="1.90" fill="#000"/>
<circle cx="305.50" cy="303.13" r="1.90" fill="#000"/>
<circle cx="311.99" cy="302.73" r="1.90" fill="#000"/>
<circle cx="318.48" cy="319.37" r="1.90" fill="#000"/>
<circle cx="324.97" cy="309.47" r="1.90" fill="#000"/>
<circle cx="331.46" cy="291.45" r="1.90" fill="#000"/>
<circle cx="331.46" cy="296.00" r="1.90" fill="#000"/>
<circle cx="337.95" cy="296.99" r="1.90" fill="#000"/>
<circle cx="337.95" cy="299.96" r="1.90" fill="#000"/>
<circle cx="344.44" cy="314.02" r="1.90" fill="#000"/>
<circle cx="344.44" cy="316.00" r="1.90" fill="#000"/>
<circle cx="350.93" cy="317.19" r="1.90" fill="#000"/>
<circle cx="357.42" cy="310.46" r="1.90" fill="#000"/>
<circle cx="357.42" cy="314.42" r="1.90" fill="#000"/>
<circle cx="363.91" cy="310.06" r="1.90" fill="#000"/>
<circle cx="363.91" cy="314.61" r="1.90" fill="#000"/>
<circle cx="370.40" cy="316.99" r="1.90" fill="#000"/>
<circle cx="370.40" cy="323.13" r="1.90" fill="#000"/>
<rect x="385.20" y="291.25" width="7.09" height="54.45" fill="#cf6b6e"/>
<rect x="391.69" y="282.14" width="7.09" height="63.56" fill="#d4821f"/>
<rect x="398.18" y="302.14" width="7.09" height="43.56" fill="#c49a2c"/>
<rect x="404.67" y="306.69" width="7.09" height="39.01" fill="#a8a535"/>
<rect x="411.16" y="314.02" width="7.09" height="31.68" fill="#8db03c"/>
<rect x="417.65" y="306.89" width="7.09" height="38.81" fill="#64a040"/>
<rect x="424.14" y="312.04" width="7.09" height="33.66" fill="#63a46a"/>
<rect x="430.63" y="323.33" width="7.09" height="22.37" fill="#68aa8e"/>
<rect x="437.12" y="316.00" width="7.09" height="29.70" fill="#63acb4"/>
<rect x="443.61" y="304.12" width="7.09" height="41.58" fill="#68b4e2"/>
<rect x="450.10" y="309.07" width="7.09" height="36.63" fill="#6b9fd8"/>
<rect x="456.59" y="319.37" width="7.09" height="26.33" fill="#8b93c9"/>
<rect x="463.08" y="320.95" width="7.09" height="24.75" fill="#9d86c0"/>
<rect x="469.57" y="318.57" width="7.09" height="27.13" fill="#ac7cb8"/>
<rect x="476.06" y="319.37" width="7.09" height="26.33" fill="#bf6fae"/>
<rect x="482.55" y="323.13" width="6.49" height="22.57" fill="#d0649a"/>
<circle cx="388.44" cy="290.06" r="1.90" fill="#000"/>
<circle cx="388.44" cy="291.65" r="1.90" fill="#000"/>
<circle cx="394.94" cy="278.38" r="1.90" fill="#000"/>
<circle cx="394.94" cy="286.50" r="1.90" fill="#000"/>
<circle cx="401.43" cy="299.57" r="1.90" fill="#000"/>
<circle cx="401.43" cy="303.53" r="1.90" fill="#000"/>
<circle cx="407.91" cy="304.12" r="1.90" fill="#000"/>
<circle cx="407.91" cy="309.27" r="1.90" fill="#000"/>
<circle cx="414.40" cy="313.62" r="1.90" fill="#000"/>
<circle cx="420.89" cy="304.71" r="1.90" fill="#000"/>
<circle cx="420.89" cy="309.07" r="1.90" fill="#000"/>
<circle cx="427.38" cy="310.46" r="1.90" fill="#000"/>
<circle cx="427.38" cy="314.22" r="1.90" fill="#000"/>
<circle cx="433.88" cy="320.95" r="1.90" fill="#000"/>
<circle cx="433.88" cy="324.12" r="1.90" fill="#000"/>
<circle cx="440.37" cy="316.00" r="1.90" fill="#000"/>
<circle cx="446.86" cy="302.73" r="1.90" fill="#000"/>
<circle cx="446.86" cy="305.70" r="1.90" fill="#000"/>
<circle cx="453.35" cy="308.28" r="1.90" fill="#000"/>
<circle cx="453.35" cy="310.06" r="1.90" fill="#000"/>
<circle cx="459.83" cy="315.41" r="1.90" fill="#000"/>
<circle cx="459.83" cy="323.52" r="1.90" fill="#000"/>
<circle cx="466.32" cy="321.35" r="1.90" fill="#000"/>
<circle cx="472.81" cy="318.57" r="1.90" fill="#000"/>
<circle cx="479.31" cy="319.76" r="1.90" fill="#000"/>
<circle cx="485.80" cy="322.34" r="1.90" fill="#000"/>
<circle cx="485.80" cy="324.12" r="1.90" fill="#000"/>
<rect x="32.50" y="201.90" width="460.90" height="145.90" fill="none" stroke="#1a1a1a" stroke-width="1.5"/>
<text x="81.38" y="215.80" font-size="6.20" fill="#333" textLength="19.54" lengthAdjust="spacingAndGlyphs" stroke="#333" stroke-width="0.06">LATEST</text>
<text x="199.46" y="215.80" font-size="6.20" fill="#333" textLength="13.37" lengthAdjust="spacingAndGlyphs" stroke="#333" stroke-width="0.06">LATE</text>
<text x="314.37" y="215.80" font-size="6.20" fill="#333" textLength="17.25" lengthAdjust="spacingAndGlyphs" stroke="#333" stroke-width="0.06">EARLY</text>
<text x="424.57" y="215.80" font-size="6.20" fill="#333" textLength="25.15" lengthAdjust="spacingAndGlyphs" stroke="#333" stroke-width="0.06">EARLIEST</text>
<line x1="29.20" y1="226.90" x2="32.50" y2="226.90" stroke="#333" stroke-width="1.0"/>
<text x="19.56" y="229.35" font-size="7.00" fill="#444" textLength="7.40" lengthAdjust="spacingAndGlyphs" stroke="#444" stroke-width="0.15">60</text>
<line x1="29.20" y1="266.50" x2="32.50" y2="266.50" stroke="#333" stroke-width="1.0"/>
<text x="19.75" y="268.95" font-size="7.00" fill="#444" textLength="7.20" lengthAdjust="spacingAndGlyphs" stroke="#444" stroke-width="0.15">40</text>
<line x1="29.20" y1="306.10" x2="32.50" y2="306.10" stroke="#333" stroke-width="1.0"/>
<text x="19.57" y="308.55" font-size="7.00" fill="#444" textLength="7.39" lengthAdjust="spacingAndGlyphs" stroke="#444" stroke-width="0.15">20</text>
<line x1="29.20" y1="345.70" x2="32.50" y2="345.70" stroke="#333" stroke-width="1.0"/>
<text x="23.02" y="348.15" font-size="7.00" fill="#444" textLength="3.96" lengthAdjust="spacingAndGlyphs" stroke="#444" stroke-width="0.15">0</text>
<text transform="translate(13.80,327.17) rotate(-90)" font-size="9.00" fill="#111" textLength="103.87" lengthAdjust="spacingAndGlyphs" stroke="#111" stroke-width="0.3">Relative mutation rate (5mC)</text>
<rect x="129.70" y="355.10" width="6.30" height="6.40" fill="#cf6b6e"/>
<text x="139.09" y="360.70" font-size="6.00" fill="#2a2a2a" textLength="12.82" lengthAdjust="spacingAndGlyphs" stroke="#2a2a2a" stroke-width="0.08">A<tspan fill="#e64545" stroke="#e64545" stroke-width="0.1">C</tspan>GA</text>
<rect x="164.00" y="355.10" width="6.30" height="6.40" fill="#d4821f"/>
<text x="173.39" y="360.70" font-size="6.00" fill="#2a2a2a" textLength="12.98" lengthAdjust="spacingAndGlyphs" stroke="#2a2a2a" stroke-width="0.08">A<tspan fill="#e64545" stroke="#e64545" stroke-width="0.1">C</tspan>GC</text>
<rect x="198.30" y="355.10" width="6.30" height="6.40" fill="#c49a2c"/>
<text x="207.69" y="360.70" font-size="6.00" fill="#2a2a2a" textLength="13.14" lengthAdjust="spacingAndGlyphs" stroke="#2a2a2a" stroke-width="0.08">A<tspan fill="#e64545" stroke="#e64545" stroke-width="0.1">C</tspan>GG</text>
<rect x="232.60" y="355.10" width="6.30" height="6.40" fill="#a8a535"/>
<text x="241.99" y="360.70" font-size="6.00" fill="#2a2a2a" textLength="12.92" lengthAdjust="spacingAndGlyphs" stroke="#2a2a2a" stroke-width="0.08">A<tspan fill="#e64545" stroke="#e64545" stroke-width="0.1">C</tspan>GT</text>
<rect x="266.90" y="355.10" width="6.30" height="6.40" fill="#8db03c"/>
<text x="276.07" y="360.70" font-size="6.00" fill="#2a2a2a" textLength="13.04" lengthAdjust="spacingAndGlyphs" stroke="#2a2a2a" stroke-width="0.08">C<tspan fill="#e64545" stroke="#e64545" stroke-width="0.1">C</tspan>GA</text>
<rect x="301.20" y="355.10" width="6.30" height="6.40" fill="#64a040"/>
<text x="310.37" y="360.70" font-size="6.00" fill="#2a2a2a" textLength="13.20" lengthAdjust="spacingAndGlyphs" stroke="#2a2a2a" stroke-width="0.08">C<tspan fill="#e64545" stroke="#e64545" stroke-width="0.1">C</tspan>GC</text>
<rect x="335.50" y="355.10" width="6.30" height="6.40" fill="#63a46a"/>
<text x="344.67" y="360.70" font-size="6.00" fill="#2a2a2a" textLength="13.36" lengthAdjust="spacingAndGlyphs" stroke="#2a2a2a" stroke-width="0.08">C<tspan fill="#e64545" stroke="#e64545" stroke-width="0.1">C</tspan>GG</text>
<rect x="369.80" y="355.10" width="6.30" height="6.40" fill="#68aa8e"/>
<text x="378.96" y="360.70" font-size="6.00" fill="#2a2a2a" textLength="13.14" lengthAdjust="spacingAndGlyphs" stroke="#2a2a2a" stroke-width="0.08">C<tspan fill="#e64545" stroke="#e64545" stroke-width="0.1">C</tspan>GT</text>
<rect x="129.70" y="368.40" width="6.30" height="6.40" fill="#63acb4"/>
<text x="138.88" y="374.00" font-size="6.00" fill="#2a2a2a" textLength="13.03" lengthAdjust="spacingAndGlyphs" stroke="#2a2a2a" stroke-width="0.08">G<tspan fill="#e64545" stroke="#e64545" stroke-width="0.1">C</tspan>GA</text>
<rect x="164.00" y="368.40" width="6.30" height="6.40" fill="#68b4e2"/>
<text x="173.18" y="374.00" font-size="6.00" fill="#2a2a2a" textLength="13.19" lengthAdjust="spacingAndGlyphs" stroke="#2a2a2a" stroke-width="0.08">G<tspan fill="#e64545" stroke="#e64545" stroke-width="0.1">C</tspan>GC</text>
<rect x="198.30" y="368.40" width="6.30" height="6.40" fill="#6b9fd8"/>
<text x="207.48" y="374.00" font-size="6.00" fill="#2a2a2a" textLength="13.35" lengthAdjust="spacingAndGlyphs" stroke="#2a2a2a" stroke-width="0.08">G<tspan fill="#e64545" stroke="#e64545" stroke-width="0.1">C</tspan>GG</text>
<rect x="232.60" y="368.40" width="6.30" height="6.40" fill="#8b93c9"/>
<text x="241.77" y="374.00" font-size="6.00" fill="#2a2a2a" textLength="13.13" lengthAdjust="spacingAndGlyphs" stroke="#2a2a2a" stroke-width="0.08">G<tspan fill="#e64545" stroke="#e64545" stroke-width="0.1">C</tspan>GT</text>
<rect x="266.90" y="368.40" width="6.30" height="6.40" fill="#9d86c0"/>
<text x="276.20" y="374.00" font-size="6.00" fill="#2a2a2a" textLength="12.91" lengthAdjust="spacingAndGlyphs" stroke="#2a2a2a" stroke-width="0.08">T<tspan fill="#e64545" stroke="#e64545" stroke-width="0.1">C</tspan>GA</text>
<rect x="301.20" y="368.40" width="6.30" height="6.40" fill="#ac7cb8"/>
<text x="310.50" y="374.00" font-size="6.00" fill="#2a2a2a" textLength="13.08" lengthAdjust="spacingAndGlyphs" stroke="#2a2a2a" stroke-width="0.08">T<tspan fill="#e64545" stroke="#e64545" stroke-width="0.1">C</tspan>GC</text>
<rect x="335.50" y="368.40" width="6.30" height="6.40" fill="#bf6fae"/>
<text x="344.80" y="374.00" font-size="6.00" fill="#2a2a2a" textLength="13.25" lengthAdjust="spacingAndGlyphs" stroke="#2a2a2a" stroke-width="0.08">T<tspan fill="#e64545" stroke="#e64545" stroke-width="0.1">C</tspan>GG</text>
<rect x="369.80" y="368.40" width="6.30" height="6.40" fill="#d0649a"/>
<text x="379.09" y="374.00" font-size="6.00" fill="#2a2a2a" textLength="13.02" lengthAdjust="spacingAndGlyphs" stroke="#2a2a2a" stroke-width="0.08">T<tspan fill="#e64545" stroke="#e64545" stroke-width="0.1">C</tspan>GT</text>
<rect x="0.00" y="0.00" width="519.60" height="1.50" fill="#000"/>
<rect x="0.00" y="0.00" width="1.40" height="381.30" fill="#000"/>
<rect x="518.00" y="0.00" width="1.60" height="381.30" fill="#000"/>
<rect x="0.00" y="379.90" width="519.60" height="1.40" fill="#000"/>
</svg>
</body></html>
